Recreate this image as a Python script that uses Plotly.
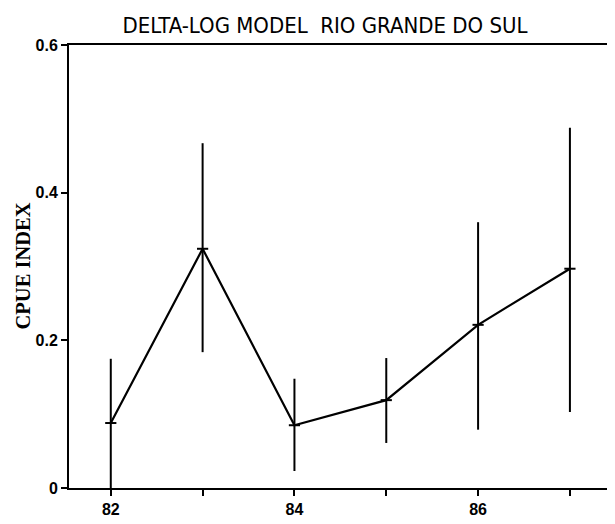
import plotly.graph_objects as go

years = [82, 83, 84, 85, 86, 87]
cpue = [0.088, 0.324, 0.085, 0.119, 0.221, 0.297]
upper = [0.175, 0.467, 0.148, 0.176, 0.360, 0.488]
lower = [0.0, 0.184, 0.023, 0.061, 0.079, 0.103]

x_tickvals = [82, 83, 84, 85, 86, 87]
x_ticktext = ["82", "", "84", "", "86", ""]
y_tickvals = [0, 0.2, 0.4, 0.6]
y_ticktext = ["0", "0.2", "0.4", "0.6"]

err_plus = [u - c for u, c in zip(upper, cpue)]
err_minus = [c - l for c, l in zip(cpue, lower)]

# page offset of the figure div (default body margin)
OFF = 8
W, H = 615, 524 - OFF
PLOT_RIGHT = 614  # page x of the right frame

fig = go.Figure()
fig.add_trace(go.Scatter(
    x=years, y=cpue, mode="lines+markers",
    line=dict(color="black", width=2.2),
    marker=dict(symbol="line-ew", size=8, line=dict(color="black", width=2)),
    error_y=dict(type="data", symmetric=False, array=err_plus, arrayminus=err_minus,
                 color="black", thickness=2, width=0),
    showlegend=False, hoverinfo="skip",
))

fig.update_layout(
    width=W, height=H,
    margin=dict(l=69 - OFF, r=W - (PLOT_RIGHT - OFF), t=45 - OFF, b=36, autoexpand=False),
    paper_bgcolor="white", plot_bgcolor="white",
    title=dict(text="DELTA-LOG MODEL  RIO GRANDE DO SUL",
               font=dict(family="Liberation Sans Narrow, DejaVu Sans Condensed, Arial Narrow, sans-serif",
                         size=22, color="black"),
               x=(325 - OFF) / W, xanchor="center", y=1 - (25 - OFF) / H, yanchor="middle"),
)
fig.update_xaxes(
    range=[81.545, 87.48], tickvals=x_tickvals, ticktext=x_ticktext,
    ticks="outside", ticklen=6, tickwidth=1.5, tickcolor="black",
    showline=True, linecolor="black", linewidth=2, mirror=True,
    showgrid=False, zeroline=False, automargin=False,
    tickfont=dict(family="Liberation Sans, Arial, sans-serif", size=16, color="black", weight="bold"),
)
fig.update_yaxes(
    range=[0, 0.6], tickvals=y_tickvals, ticktext=y_ticktext,
    ticks="outside", ticklen=6, tickwidth=1.5, tickcolor="black",
    showline=True, linecolor="black", linewidth=2, mirror=True,
    showgrid=False, zeroline=False, automargin=False,
    tickfont=dict(family="Liberation Sans, Arial, sans-serif", size=16, color="black", weight="bold"),
)
fig.add_annotation(
    text="CPUE INDEX", xref="paper", yref="paper",
    x=(22 - 69) / (PLOT_RIGHT - 69), y=0.5, xanchor="center", yanchor="middle",
    textangle=-90, showarrow=False,
    font=dict(family="Liberation Serif, Times New Roman, serif", size=20.5, color="black", weight="bold"),
)

fig.write_html("out.html")
